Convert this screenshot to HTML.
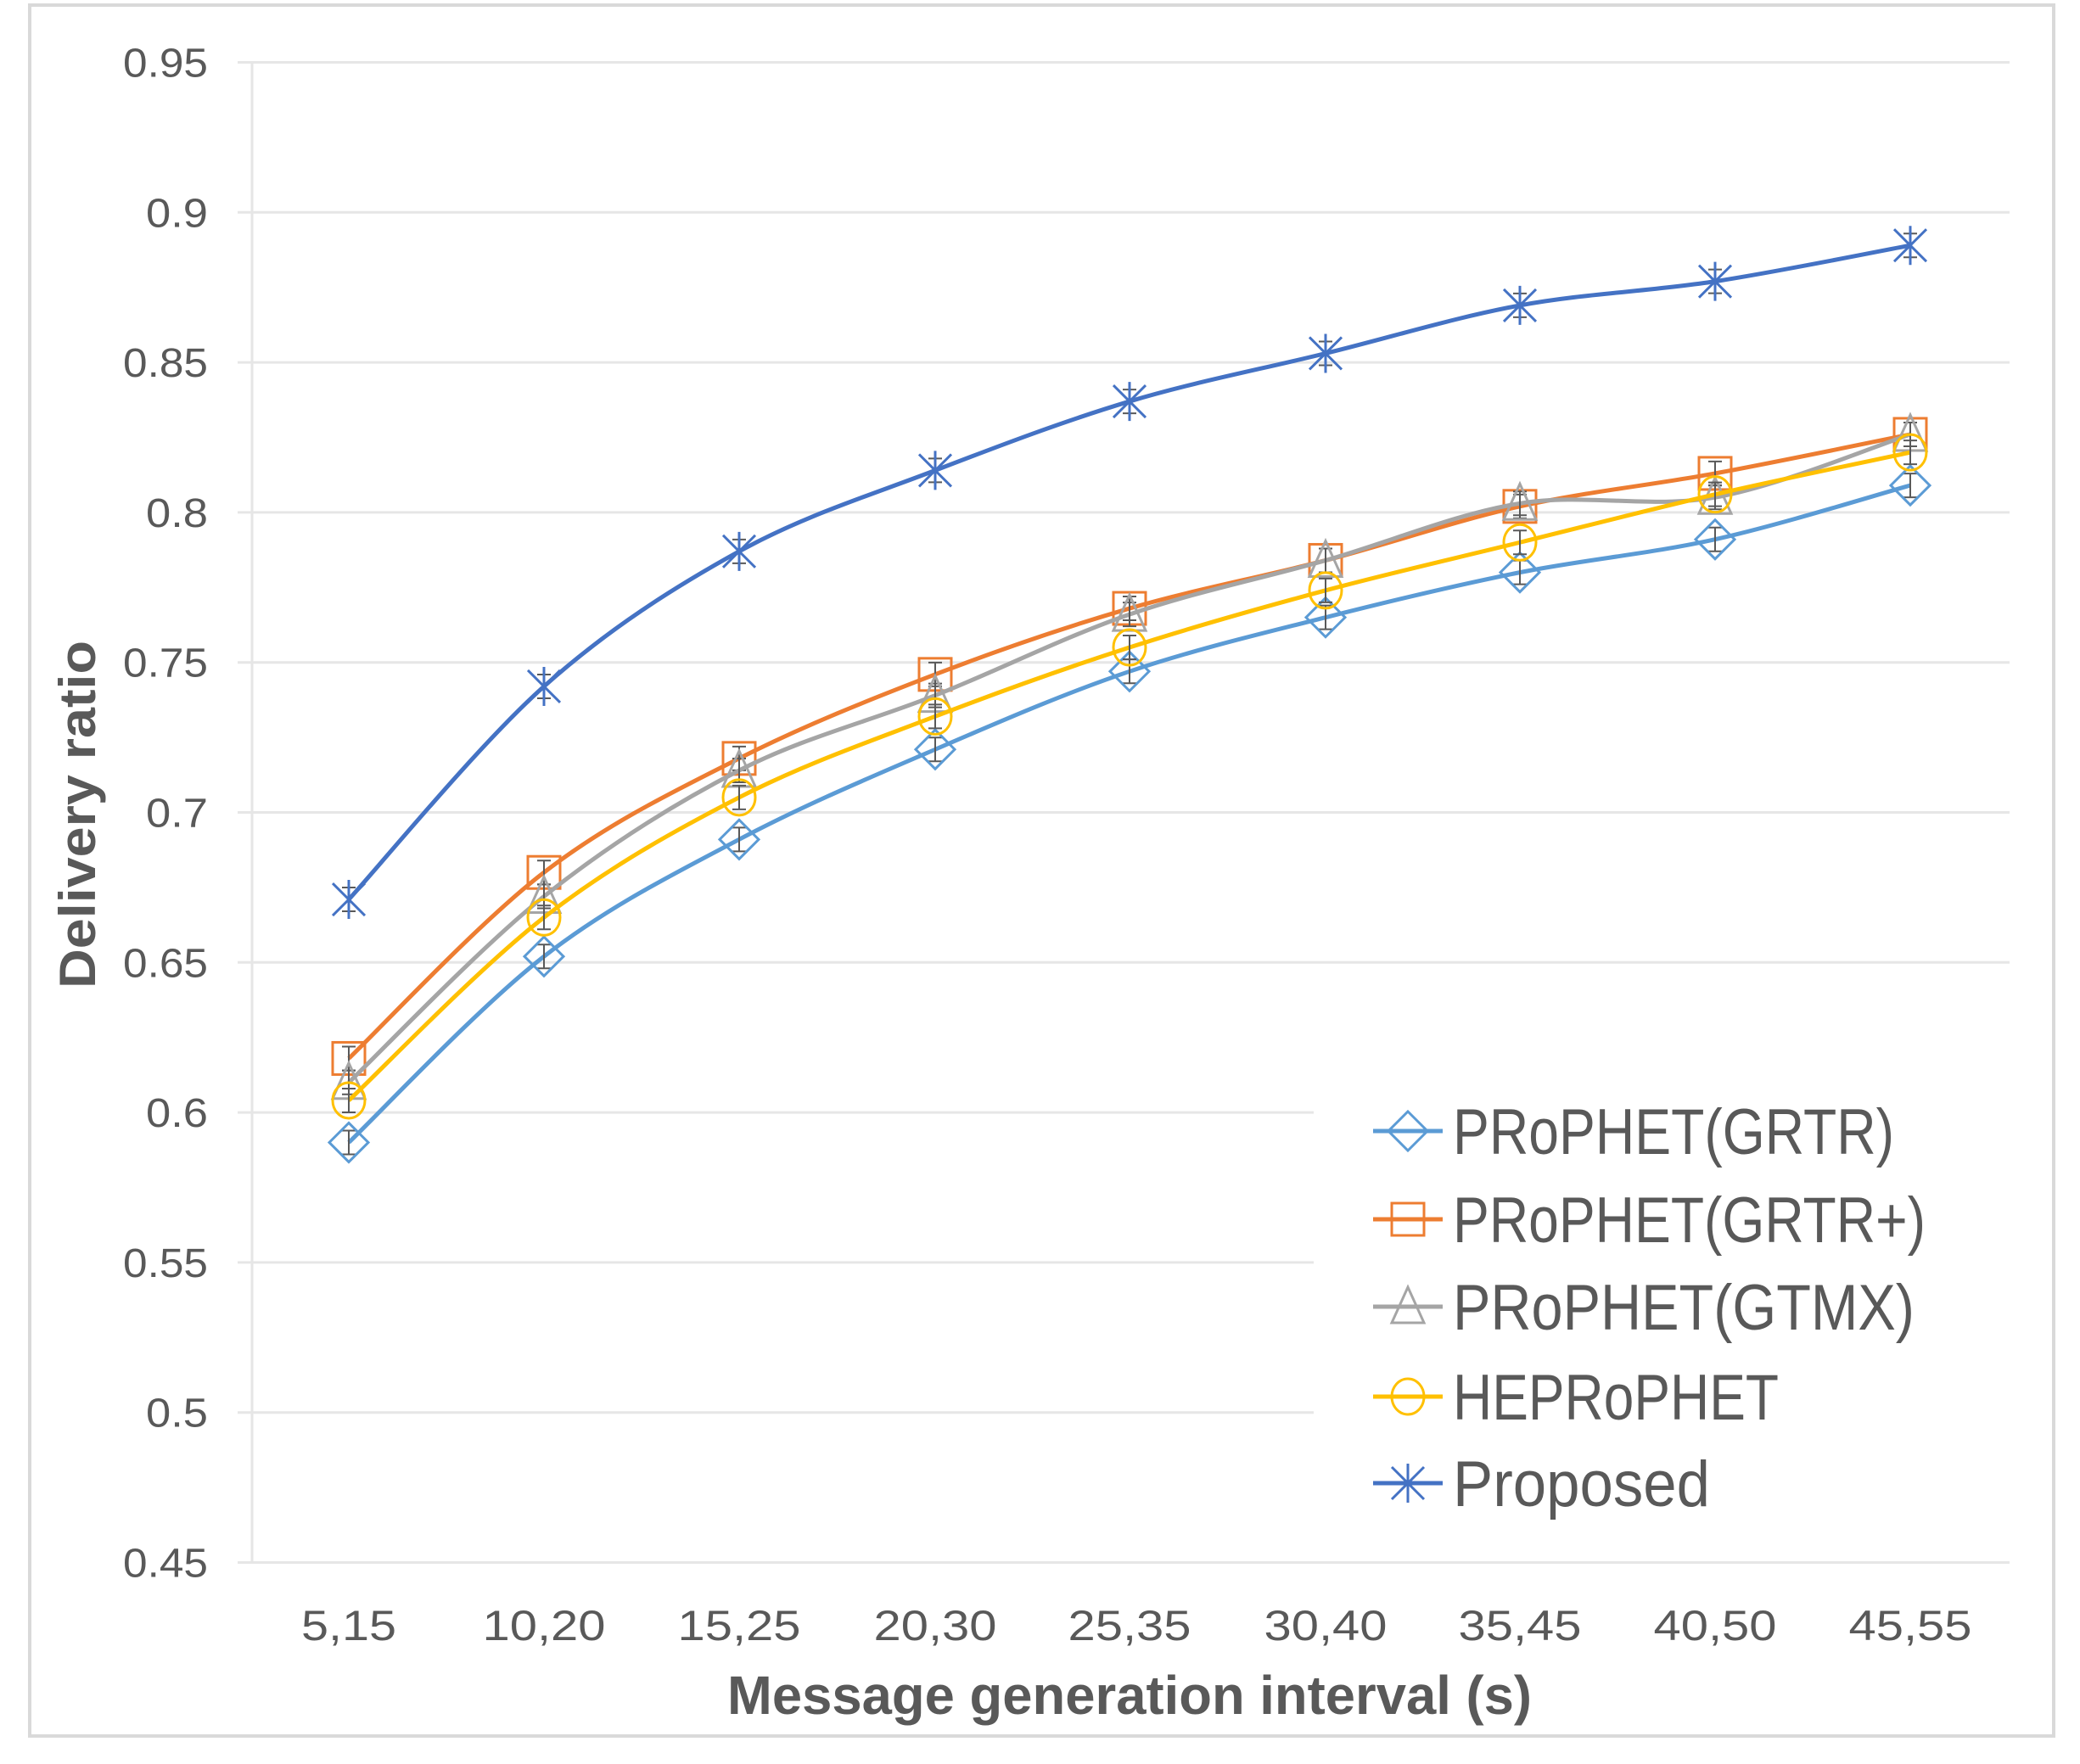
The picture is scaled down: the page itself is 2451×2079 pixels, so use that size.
<!DOCTYPE html>
<html><head><meta charset="utf-8"><style>
html,body{margin:0;padding:0;background:#fff;width:2451px;height:2079px;overflow:hidden}
svg{display:block}
text{font-family:"Liberation Sans",sans-serif}
</style></head><body>
<svg id="s" width="2451" height="2079" viewBox="0 0 2451 2079" xmlns="http://www.w3.org/2000/svg">
<rect x="0" y="0" width="2451" height="2079" fill="#fff"/>
<rect x="35" y="6" width="2385" height="2040" fill="#fff" stroke="#d9d9d9" stroke-width="4"/>
<g id="grid" stroke="#e6e6e6" stroke-width="3"></g>
<line x1="297" y1="73" x2="297" y2="1842" stroke="#e6e6e6" stroke-width="3"/>
<g id="yt" fill="#595959" font-size="48" text-anchor="end"></g>
<g id="xt" fill="#595959" font-size="50" text-anchor="middle"></g>
<text x="1331" y="2020" font-size="64" font-weight="bold" fill="#595959" text-anchor="middle" textLength="948" lengthAdjust="spacingAndGlyphs">Message generation interval (s)</text>
<text transform="translate(112,960) rotate(-90)" font-size="60" font-weight="bold" fill="#595959" text-anchor="middle" textLength="410" lengthAdjust="spacingAndGlyphs">Delivery ratio</text>
<rect x="1548" y="1255" width="870" height="560" fill="#fff"/>
<g id="series"></g>
<g id="leg" fill="#595959" font-size="76"></g>
</svg>
<script>
var ns="http://www.w3.org/2000/svg";
function el(t,a,p){var e=document.createElementNS(ns,t);for(var k in a)e.setAttribute(k,a[k]);p.appendChild(e);return e;}
function Y(v){return 73.5+(0.95-v)*3536;}
var X=[411,641,871,1102,1331,1562,1791,2021,2251];
var g=document.getElementById('grid'),yt=document.getElementById('yt'),xt=document.getElementById('xt');
for(var i=0;i<=10;i++){var v=0.45+i*0.05;var y=Y(v);el('line',{x1:280,y1:y,x2:2368,y2:y},g);
var s=(Math.round(v*100)/100).toString();
var t=el('text',{x:245,y:y+17,textLength:(s.length==4?100:73),lengthAdjust:"spacingAndGlyphs"},yt);t.textContent=s;}
var labs=["5,15","10,20","15,25","20,30","25,35","30,40","35,45","40,50","45,55"];
labs.forEach(function(l,i){var t=el('text',{x:X[i],y:1933,textLength:(l.length==4?112:145),lengthAdjust:"spacingAndGlyphs"},xt);t.textContent=l;});
var S=[
{n:"PRoPHET(GRTR)",c:"#5B9BD5",m:"d",w:520,d:[.590,.652,.691,.721,.747,.765,.780,.791,.809]},
{n:"PRoPHET(GRTR+)",c:"#ED7D31",m:"s",w:557,d:[.618,.680,.718,.746,.768,.784,.802,.813,.826]},
{n:"PRoPHET(GTMX)",c:"#A5A5A5",m:"t",w:544,d:[.610,.672,.714,.739,.766,.784,.803,.805,.826]},
{n:"HEPRoPHET",c:"#FFC000",m:"c",w:384,d:[.604,.665,.705,.732,.755,.774,.790,.806,.820]},
{n:"Proposed",c:"#4472C4",m:"x",w:303,d:[.671,.742,.787,.814,.837,.853,.869,.877,.889]}];
var sg=document.getElementById('series'),lg=document.getElementById('leg');
function marker(m,x,y,c,p){var r=19;
 if(m=="d")el('path',{d:"M"+x+" "+(y-r-4)+"L"+(x+r+4)+" "+y+"L"+x+" "+(y+r+4)+"L"+(x-r-4)+" "+y+"Z",fill:"none",stroke:c,"stroke-width":3},p);
 if(m=="s")el('rect',{x:x-r,y:y-r,width:2*r,height:2*r,fill:"none",stroke:c,"stroke-width":3},p);
 if(m=="t")el('path',{d:"M"+x+" "+(y-r-4)+"L"+(x+r)+" "+(y+r)+"L"+(x-r)+" "+(y+r)+"Z",fill:"none",stroke:c,"stroke-width":3},p);
 if(m=="c")el('ellipse',{cx:x,cy:y,rx:r,ry:r+2,fill:"none",stroke:c,"stroke-width":3},p);
 if(m=="x"){el('path',{d:"M"+(x-r)+" "+(y-r)+"L"+(x+r)+" "+(y+r)+"M"+(x+r)+" "+(y-r)+"L"+(x-r)+" "+(y+r)+"M"+x+" "+(y-r-4)+"L"+x+" "+(y+r+4),fill:"none",stroke:c,"stroke-width":3},p);}
}
S.forEach(function(s,k){
 var P=s.d.map(function(v,i){return [X[i],Y(v)];});
 var d="M"+P[0][0]+" "+P[0][1];
 for(var i=0;i<P.length-1;i++){var p0=P[Math.max(0,i-1)],p1=P[i],p2=P[i+1],p3=P[Math.min(P.length-1,i+2)];
  var c1=[p1[0]+(p2[0]-p0[0])/6,p1[1]+(p2[1]-p0[1])/6],c2=[p2[0]-(p3[0]-p1[0])/6,p2[1]-(p3[1]-p1[1])/6];
  d+="C"+c1[0]+" "+c1[1]+" "+c2[0]+" "+c2[1]+" "+p2[0]+" "+p2[1];}
 el('path',{d:d,fill:"none",stroke:s.c,"stroke-width":5},sg);
 P.forEach(function(p){el('path',{d:"M"+p[0]+" "+(p[1]-14)+"V"+(p[1]+14)+"M"+(p[0]-8)+" "+(p[1]-14)+"h16M"+(p[0]-8)+" "+(p[1]+14)+"h16",stroke:"#595959","stroke-width":2,fill:"none"},sg);
  marker(s.m,p[0],p[1],s.c,sg);});
 var ly=[1333,1437,1540,1646,1748][k];
 el('line',{x1:1618,y1:ly,x2:1700,y2:ly,stroke:s.c,"stroke-width":5},lg);
 marker(s.m,1659,ly,s.c,lg);
 var t=el('text',{x:1712,y:ly+27,textLength:s.w,lengthAdjust:"spacingAndGlyphs"},lg);t.textContent=s.n;
});
</script>
</body></html>
